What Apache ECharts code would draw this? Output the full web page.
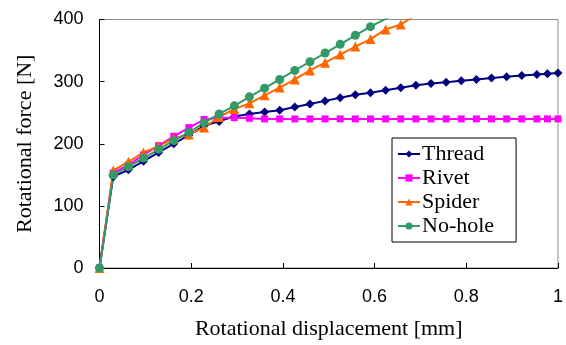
<!DOCTYPE html>
<html>
<head>
<meta charset="utf-8">
<script src="https://cdn.jsdelivr.net/npm/echarts@6/dist/echarts.min.js"></script>
<style>
  html, body { margin: 0; padding: 0; background: #fff; }
  #chart { width: 566px; height: 345px; }
</style>
</head>
<body>
<div id="chart"></div>
<script>
// displacement [mm] of each measuring step
const xValues = [0, 0.03, 0.063, 0.096, 0.129, 0.162, 0.195, 0.228, 0.261, 0.294, 0.327, 0.36, 0.393, 0.426, 0.459, 0.492,
  0.525, 0.558, 0.591, 0.624, 0.657, 0.69, 0.723, 0.756, 0.789, 0.822, 0.855, 0.888, 0.921, 0.954, 0.977, 1.0]

// rotational force [N]
const threadForce = [0, 147, 158, 172, 186, 200, 214, 229, 236, 244, 248, 251, 254, 259, 264, 269,
  274, 279, 282, 286, 290, 294, 297, 299, 301.5, 303.5, 306, 308, 310, 311.5, 312.7, 314]
const rivetForce = [0, 153, 166, 182, 197, 212, 226, 239, 242, 242, 241, 240, 240, 240, 240, 240,
  240, 240, 240, 240, 240, 240, 240, 240, 240, 240, 240, 240, 240, 240, 240, 240]
const spiderForce = [0, 157, 171, 186, 196, 209, 215, 226, 243, 256, 265, 278, 290.5, 303.5, 318, 330.5,
  343.5, 356.5, 368.5, 384, 392, 407]
const noHoleForce = [0, 150, 163, 177, 191, 205, 218.5, 233.5, 248, 261, 275.5, 289.5, 303.5, 318, 332, 346,
  360, 374.5, 388.5, 401, 414]

const seriesNames = ['Thread', 'Rivet', 'Spider', 'No-hole']

const pairs = (ys) => ys.map((y, i) => [xValues[i], y])

const serif = '"Liberation Serif", "Times New Roman", serif'
const sans = '"Liberation Sans", Arial, sans-serif'

const chart = echarts.init(document.getElementById('chart'))
chart.setOption({
  animation: false,
  backgroundColor: '#fff',
  grid: {
    left: 99.5, right: 7, top: 19.5, bottom: 74.5,
    show: true, borderColor: '#8c8c8c', borderWidth: 1
  },
  legend: {
    orient: 'vertical',
    left: 392, top: 138,
    padding: [5, 22, 5, 5],
    itemGap: 2,
    itemWidth: 22,
    itemHeight: 9,
    backgroundColor: '#fff',
    borderColor: '#000',
    borderWidth: 1,
    borderRadius: 0,
    textStyle: { fontFamily: serif, fontSize: 22, color: '#000', padding: [0, 0, 0, -3] },
    data: seriesNames
  },
  xAxis: {
    type: 'value',
    min: 0, max: 1, interval: 0.2,
    name: 'Rotational displacement [mm]',
    nameLocation: 'middle',
    nameGap: 50,
    nameTextStyle: { fontFamily: serif, fontSize: 22, color: '#000' },
    axisLine: { show: true, lineStyle: { color: '#000', width: 1 } },
    axisTick: { show: true, inside: true, length: 5, lineStyle: { color: '#000' } },
    axisLabel: { fontFamily: sans, fontSize: 18, color: '#000', margin: 20 },
    splitLine: { show: false }
  },
  yAxis: {
    type: 'value',
    min: 0, max: 400, interval: 100,
    name: 'Rotational force [N]',
    nameLocation: 'middle',
    nameRotate: 90,
    nameGap: 63,
    nameTextStyle: { fontFamily: serif, fontSize: 22, color: '#000' },
    axisLine: { show: true, lineStyle: { color: '#000', width: 1 } },
    axisTick: { show: true, inside: true, length: 5, lineStyle: { color: '#000' } },
    axisLabel: { fontFamily: sans, fontSize: 18, color: '#000', margin: 16 },
    splitLine: { show: false }
  },
  series: [
    {
      name: 'Thread', type: 'line', data: pairs(threadForce),
      symbol: 'diamond', symbolSize: 9,
      lineStyle: { color: '#000080', width: 2 },
      itemStyle: { color: '#000080' }
    },
    {
      name: 'Rivet', type: 'line', data: pairs(rivetForce),
      symbol: 'rect', symbolSize: 7,
      lineStyle: { color: '#ff00ff', width: 2 },
      itemStyle: { color: '#ff00ff' }
    },
    {
      name: 'Spider', type: 'line', data: pairs(spiderForce),
      symbol: 'triangle', symbolSize: 10,
      lineStyle: { color: '#ff6600', width: 2 },
      itemStyle: { color: '#ff6600' }
    },
    {
      name: 'No-hole', type: 'line', data: pairs(noHoleForce),
      symbol: 'circle', symbolSize: 9,
      lineStyle: { color: '#339966', width: 2 },
      itemStyle: { color: '#339966' }
    }
  ]
})
</script>
</body>
</html>
